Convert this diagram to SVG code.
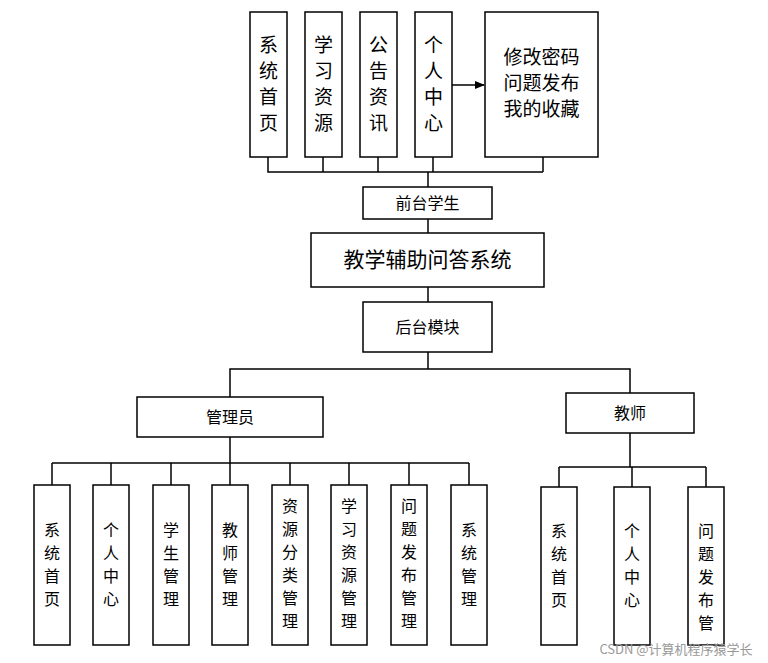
<svg xmlns="http://www.w3.org/2000/svg" width="768" height="663" viewBox="0 0 768 663">
<defs><marker id="ar" markerWidth="10" markerHeight="8" refX="9" refY="4" orient="auto" markerUnits="userSpaceOnUse"><path d="M0,0 L10,4 L0,8 Z" fill="#000"/></marker></defs>
<style>
rect{fill:#fff;stroke:#000;stroke-width:1.5}
text{font-family:"Noto Sans CJK SC","Liberation Sans",sans-serif;fill:#000;text-anchor:middle}
.v{font-size:19px}
.s{font-size:16px}
line,polyline{stroke:#000;stroke-width:1.5;fill:none}
</style>
<rect width="768" height="663" style="fill:#fff;stroke:none"/>
<g id="connectors">
<polyline points="268,157 268,172 543,172"/>
<line x1="323" y1="157" x2="323" y2="172"/><line x1="378" y1="157" x2="378" y2="172"/><line x1="433" y1="157" x2="433" y2="172"/><line x1="543" y1="157" x2="543" y2="172"/>
<line x1="428" y1="172" x2="428" y2="187"/>
<line x1="428" y1="219" x2="428" y2="233"/>
<line x1="428" y1="287" x2="428" y2="302"/>
<line x1="428" y1="352" x2="428" y2="369"/>
<polyline points="230,397 230,369 630,369 630,393"/>
<line x1="230" y1="437" x2="230" y2="463"/>
<line x1="52" y1="463" x2="469" y2="463"/>
<line x1="52" y1="463" x2="52" y2="485"/><line x1="111" y1="463" x2="111" y2="485"/><line x1="171" y1="463" x2="171" y2="485"/><line x1="230" y1="463" x2="230" y2="485"/><line x1="290" y1="463" x2="290" y2="485"/><line x1="349" y1="463" x2="349" y2="485"/><line x1="409" y1="463" x2="409" y2="485"/><line x1="469" y1="463" x2="469" y2="485"/>
<line x1="630" y1="433" x2="630" y2="467"/>
<line x1="559" y1="467" x2="706" y2="467"/>
<line x1="559" y1="467" x2="559" y2="487"/><line x1="632" y1="467" x2="632" y2="487"/><line x1="706" y1="467" x2="706" y2="487"/>
<line x1="452" y1="85" x2="484" y2="85" marker-end="url(#ar)"/>
</g>
<g id="t1"><rect x="250" y="12" width="37" height="145"/><text class="v" x="268.5" y="52">系</text><text class="v" x="268.5" y="78">统</text><text class="v" x="268.5" y="104">首</text><text class="v" x="268.5" y="130">页</text></g>
<g id="t2"><rect x="305" y="12" width="37" height="145"/><text class="v" x="323.5" y="52">学</text><text class="v" x="323.5" y="78">习</text><text class="v" x="323.5" y="104">资</text><text class="v" x="323.5" y="130">源</text></g>
<g id="t3"><rect x="360" y="12" width="37" height="145"/><text class="v" x="378.5" y="52">公</text><text class="v" x="378.5" y="78">告</text><text class="v" x="378.5" y="104">资</text><text class="v" x="378.5" y="130">讯</text></g>
<g id="t4"><rect x="415" y="12" width="37" height="145"/><text class="v" x="433.5" y="52">个</text><text class="v" x="433.5" y="78">人</text><text class="v" x="433.5" y="104">中</text><text class="v" x="433.5" y="130">心</text></g>
<g id="t5"><rect x="485" y="12" width="113" height="145"/><text class="v" x="541.5" y="64">修改密码</text><text class="v" x="541.5" y="90">问题发布</text><text class="v" x="541.5" y="116">我的收藏</text></g>
<g id="qt"><rect x="363" y="187" width="129" height="32"/><text class="s" x="427.5" y="209">前台学生</text></g>
<g id="sys"><rect x="311" y="233" width="233" height="54"/><text x="427.5" y="267" style="font-size:21px">教学辅助问答系统</text></g>
<g id="ht"><rect x="363" y="302" width="129" height="50"/><text class="s" x="427.5" y="333">后台模块</text></g>
<g id="admin"><rect x="137" y="397" width="186" height="40"/><text class="s" x="230" y="423">管理员</text></g>
<g id="teacher"><rect x="566" y="393" width="128" height="40"/><text class="s" x="630" y="419">教师</text></g>
<g id="a1"><rect x="34" y="485" width="36" height="160"/><text class="s" x="52" y="536">系</text><text class="s" x="52" y="559">统</text><text class="s" x="52" y="582">首</text><text class="s" x="52" y="605">页</text></g>
<g id="a2"><rect x="93" y="485" width="36" height="160"/><text class="s" x="111" y="536">个</text><text class="s" x="111" y="559">人</text><text class="s" x="111" y="582">中</text><text class="s" x="111" y="605">心</text></g>
<g id="a3"><rect x="153" y="485" width="36" height="160"/><text class="s" x="171" y="536">学</text><text class="s" x="171" y="559">生</text><text class="s" x="171" y="582">管</text><text class="s" x="171" y="605">理</text></g>
<g id="a4"><rect x="212" y="485" width="36" height="160"/><text class="s" x="230" y="536">教</text><text class="s" x="230" y="559">师</text><text class="s" x="230" y="582">管</text><text class="s" x="230" y="605">理</text></g>
<g id="a5"><rect x="272" y="485" width="36" height="160"/><text class="s" x="290" y="512">资</text><text class="s" x="290" y="535">源</text><text class="s" x="290" y="558">分</text><text class="s" x="290" y="581">类</text><text class="s" x="290" y="604">管</text><text class="s" x="290" y="627">理</text></g>
<g id="a6"><rect x="331" y="485" width="36" height="160"/><text class="s" x="349" y="512">学</text><text class="s" x="349" y="535">习</text><text class="s" x="349" y="558">资</text><text class="s" x="349" y="581">源</text><text class="s" x="349" y="604">管</text><text class="s" x="349" y="627">理</text></g>
<g id="a7"><rect x="391" y="485" width="36" height="160"/><text class="s" x="409" y="512">问</text><text class="s" x="409" y="535">题</text><text class="s" x="409" y="558">发</text><text class="s" x="409" y="581">布</text><text class="s" x="409" y="604">管</text><text class="s" x="409" y="627">理</text></g>
<g id="a8"><rect x="451" y="485" width="36" height="160"/><text class="s" x="469" y="536">系</text><text class="s" x="469" y="559">统</text><text class="s" x="469" y="582">管</text><text class="s" x="469" y="605">理</text></g>
<g id="b1"><rect x="541" y="487" width="36" height="158"/><text class="s" x="559" y="537">系</text><text class="s" x="559" y="560">统</text><text class="s" x="559" y="583">首</text><text class="s" x="559" y="606">页</text></g>
<g id="b2"><rect x="614" y="487" width="36" height="158"/><text class="s" x="632" y="537">个</text><text class="s" x="632" y="560">人</text><text class="s" x="632" y="583">中</text><text class="s" x="632" y="606">心</text></g>
<g id="b3"><rect x="688" y="487" width="36" height="158"/><text class="s" x="706" y="537">问</text><text class="s" x="706" y="560">题</text><text class="s" x="706" y="583">发</text><text class="s" x="706" y="606">布</text><text class="s" x="706" y="629">管</text><text class="s" x="706" y="652" style="display:none"></text></g>
<text x="676" y="654" style="font-size:13px;fill:#999">CSDN @计算机程序猿学长</text>
</svg>
